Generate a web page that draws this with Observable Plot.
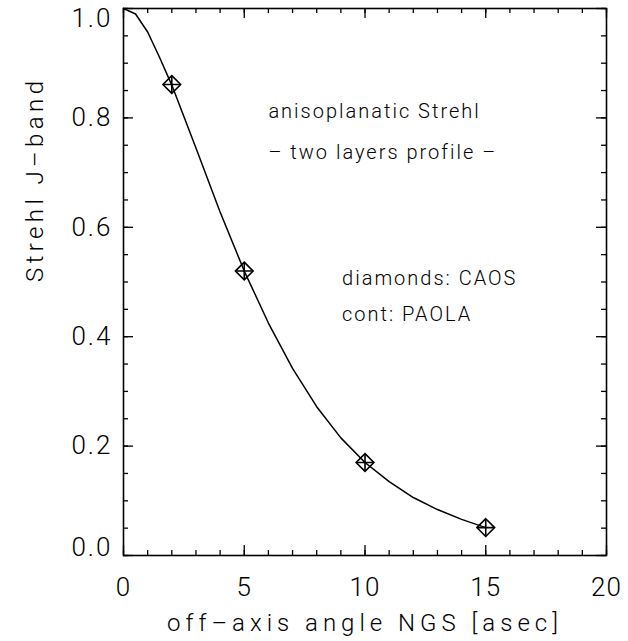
<!DOCTYPE html>
<html>
<head>
<meta charset="utf-8">
<script src="https://cdn.jsdelivr.net/npm/d3@7"></script>
<script src="https://cdn.jsdelivr.net/npm/@observablehq/plot@0.6"></script>
<style>
  html, body { margin: 0; padding: 0; background: #fff; }
  svg { display: block; }
</style>
</head>
<body>
<div id="chart"></div>
<script>
// ---- data ----
const paolaX = [0, 0.5, 1, 1.5, 2, 3, 4, 5, 6, 7, 8, 9, 10, 11, 12, 13, 14, 15];
const paolaY = [1.0, 0.99, 0.957, 0.91, 0.86, 0.745, 0.628, 0.52, 0.425, 0.342, 0.272, 0.215, 0.17, 0.135, 0.106, 0.084, 0.066, 0.051];
const caosX = [2, 5, 10, 15];
const caosY = [0.861, 0.52, 0.17, 0.051];
const xMajor = [0, 5, 10, 15, 20];
const xMinor = d3.range(0, 21, 1);
const yMajor = [0, 0.2, 0.4, 0.6, 0.8, 1.0];
const yMinor = d3.range(0, 21).map(i => i * 0.05);
const xTitle = "off–axis angle NGS [asec]";
const yTitle = "Strehl J–band";
const notes1 = ["anisoplanatic Strehl", "– two layers profile –"];
const notes1Y = [0.812, 0.737];
const notes1X = 6;
const notes2 = ["diamonds: CAOS", "cont: PAOLA"];
const notes2Y = [0.506, 0.44];
const notes2X = 9.05;

const paola = paolaX.map((x, i) => ({x, y: paolaY[i]}));
const caos = caosX.map((x, i) => ({x, y: caosY[i]}));

// ---- layout ----
const W = 628, H = 641;
const mL = 123, mR = 22, mT = 8, mB = 86;
const innerW = W - mL - mR, innerH = H - mT - mB;
const FONT = "Roboto, 'Liberation Sans', sans-serif";
const majLen = 10, minLen = 5;

const chart = Plot.plot({
  width: W, height: H,
  marginLeft: mL, marginRight: mR, marginTop: mT, marginBottom: mB,
  style: {fontFamily: FONT, fontWeight: 300, color: "#000", background: "#fff"},
  x: {domain: [0, 20], axis: null},
  y: {domain: [0, 1], axis: null},
  marks: [
    // ticks (inward, all four sides)
    Plot.ruleX(xMinor, {x: d => d, insetTop: innerH - minLen, stroke: "#000", strokeWidth: 1.3}),
    Plot.ruleX(xMinor, {x: d => d, insetBottom: innerH - minLen, stroke: "#000", strokeWidth: 1.3}),
    Plot.ruleX(xMajor, {x: d => d, insetTop: innerH - majLen, stroke: "#000", strokeWidth: 1.3}),
    Plot.ruleX(xMajor, {x: d => d, insetBottom: innerH - majLen, stroke: "#000", strokeWidth: 1.3}),
    Plot.ruleY(yMinor, {y: d => d, insetRight: innerW - minLen, stroke: "#000", strokeWidth: 1.3}),
    Plot.ruleY(yMinor, {y: d => d, insetLeft: innerW - minLen, stroke: "#000", strokeWidth: 1.3}),
    Plot.ruleY(yMajor, {y: d => d, insetRight: innerW - majLen, stroke: "#000", strokeWidth: 1.3}),
    Plot.ruleY(yMajor, {y: d => d, insetLeft: innerW - majLen, stroke: "#000", strokeWidth: 1.3}),
    Plot.frame({stroke: "#000", strokeWidth: 1.6}),
    // tick labels
    Plot.text(xMajor, {x: d => d, frameAnchor: "bottom", dy: 32, text: d => String(d),
      fontSize: 26, lineAnchor: "middle", fill: "#000", ariaLabel: () => "xtick"}),
    Plot.text(yMajor.slice(1, -1), {y: d => d, frameAnchor: "left", dx: -11, textAnchor: "end",
      text: d => d.toFixed(1), fontSize: 26, lineAnchor: "middle", fill: "#000", ariaLabel: () => "ytick"}),
    Plot.text(yMajor.slice(0, 1), {y: d => d, frameAnchor: "left", dx: -11, dy: -8, textAnchor: "end",
      text: d => d.toFixed(1), fontSize: 26, lineAnchor: "middle", fill: "#000", ariaLabel: () => "ytick"}),
    Plot.text(yMajor.slice(-1), {y: d => d, frameAnchor: "left", dx: -11, dy: 10, textAnchor: "end",
      text: d => d.toFixed(1), fontSize: 26, lineAnchor: "middle", fill: "#000", ariaLabel: () => "ytick"}),
    // axis titles
    Plot.text([xTitle], {frameAnchor: "bottom", dy: 68, text: d => d, fontSize: 24,
      lineAnchor: "middle", fill: "#000", ariaLabel: () => "xtitle"}),
    Plot.text([yTitle], {frameAnchor: "left", dx: -88, rotate: -90, text: d => d, fontSize: 24,
      lineAnchor: "middle", fill: "#000", ariaLabel: () => "ytitle"}),
    // annotations
    Plot.text(notes1, {x: () => notes1X, y: (d, i) => notes1Y[i], text: d => d, textAnchor: "start",
      fontSize: 20, lineAnchor: "middle", fill: "#000", ariaLabel: () => "note"}),
    Plot.text(notes2, {x: () => notes2X, y: (d, i) => notes2Y[i], text: d => d, textAnchor: "start",
      fontSize: 20, lineAnchor: "middle", fill: "#000", ariaLabel: () => "note"}),
    // PAOLA curve
    Plot.line(paola, {x: "x", y: "y", stroke: "#000", strokeWidth: 1.5}),
    // CAOS diamonds with plus
    Plot.dot(caos, {x: "x", y: "y", symbol: "diamond2", r: 8, stroke: "#000", strokeWidth: 1.6, fill: "none"}),
    Plot.dot(caos, {x: "x", y: "y", symbol: "plus", r: 5.6, stroke: "#000", strokeWidth: 1.6, fill: "none"})
  ]
});

const spacing = {xtick: "1px", ytick: "2px", xtitle: "5px", ytitle: "4.4px", note: "2px"};
for (const [label, ls] of Object.entries(spacing)) {
  chart.querySelectorAll(`text[aria-label="${label}"]`).forEach(t => t.style.letterSpacing = ls);
}
document.getElementById("chart").appendChild(chart);
</script>
</body>
</html>
